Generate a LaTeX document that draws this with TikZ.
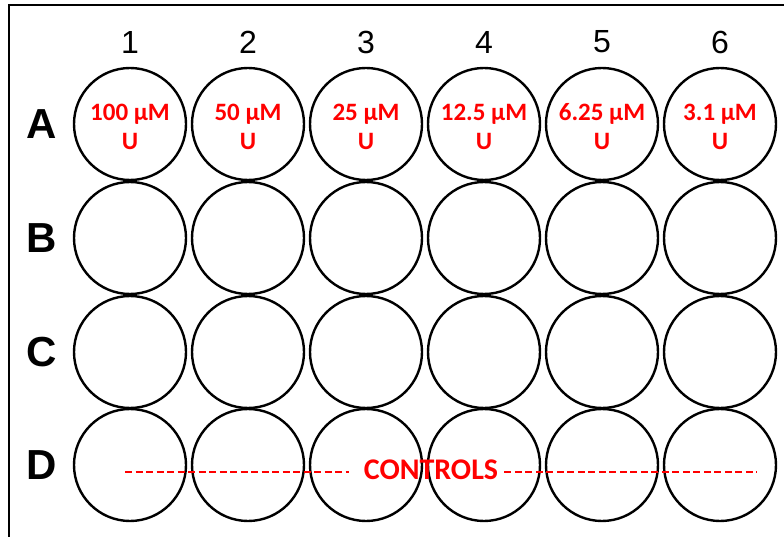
\documentclass[tikz,border=0pt]{standalone}
\usepackage{fontspec}
\setmainfont{Liberation Sans}
\newfontfamily\calib{Carlito}
\begin{document}
\begin{tikzpicture}[x=1pt,y=-1pt]
    \tikzset{
      well/.style={draw, circle, line width=2.4pt, minimum size=112pt, inner sep=0pt},
      conc/.style={text=red, font=\calib\bfseries\fontsize{25}{29}\selectfont, align=center},
      ctrldash/.style={red, line width=1.4pt, dash pattern=on 7pt off 3.5pt}
    }
    \useasboundingbox (0,0) rectangle (784,537);
    % plate frame
    \draw[line width=2.4pt] (9,537) -- (9,5) -- (784,5);
    % column numbers
    \foreach \c in {1,...,6} {
      \node[font=\fontsize{32}{32}\selectfont] (col-\c) at ({130+118*(\c-1)}, 42) {\c};
    }
    % row letters and wells
    \foreach \r/\y in {A/124, B/238, C/352, D/465} {
      \node[font=\bfseries\fontsize{42}{42}\selectfont] (row-\r) at (42, \y) {\r};
      \foreach \c in {1,...,6} {
        \node[well] (w-\r-\c) at ({130+118*(\c-1)}, \y) {};
      }
    }
    % Concentrations (row A)
    \foreach \c/\v in {1/100, 2/50, 3/25, 4/12.5, 5/6.25, 6/3.1} {
      \node[conc] (conc-\c) at ([yshift=-3pt]w-A-\c) {\v{} µM\\U};
    }
    % Controls (row D)
    \node[conc, font=\calib\bfseries\fontsize{30}{30}\selectfont, inner sep=6pt] (ctrl) at (431, 470) {CONTROLS};
    \coordinate (dash-l) at (125, 472);
    \coordinate (dash-r) at (757, 472);
    \draw[ctrldash] (dash-l) -- ([xshift=-9pt]dash-l -| ctrl.west);
    \draw[ctrldash] (dash-r -| ctrl.east) -- (dash-r);
\end{tikzpicture}
\end{document}
